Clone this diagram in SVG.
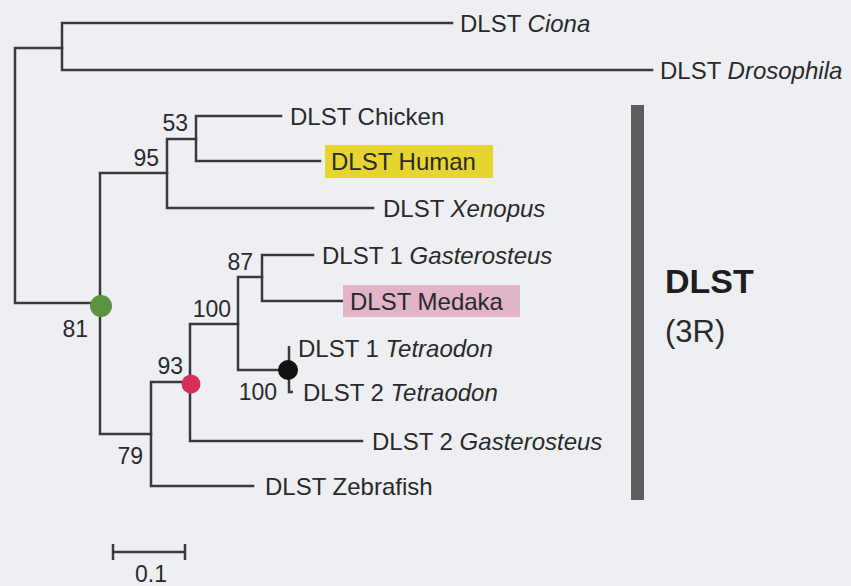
<svg xmlns="http://www.w3.org/2000/svg" width="851" height="586" viewBox="0 0 851 586">
<style>
.bg{fill:#edeff2}
.e{stroke:#3a3a3a;stroke-width:2.5;fill:none;stroke-linecap:square}
.t{font-family:"Liberation Sans",Arial,sans-serif;font-size:24px;fill:#2a2a2a}
.b{font-family:"Liberation Sans",Arial,sans-serif;font-size:23px;fill:#2a2a2a;text-anchor:end}
.i{font-style:italic}
</style>
<rect class="bg" x="0" y="0" width="851" height="586"/>
<g id="connectors">
<path class="e" d="M15 48 V303 M15 48 H62 M15 303 H100"/>
<path class="e" d="M62 23 V70 M62 23 H452 M62 70 H652"/>
<path class="e" d="M100 173 V434 M100 173 H167 M100 434 H151"/>
<path class="e" d="M167 139 V208 M167 139 H196 M167 208 H373"/>
<path class="e" d="M196 116 V161 M196 116 H281 M196 161 H320"/>
<path class="e" d="M151 382 V486 M151 382 H190 M151 486 H253"/>
<path class="e" d="M190 324 V441 M190 324 H238 M190 441 H362"/>
<path class="e" d="M238 277 V370 M238 277 H262 M238 370 H288"/>
<path class="e" d="M262 255 V301 M262 255 H313 M262 301 H343"/>
<path class="e" d="M289 346 V392 H293" style="stroke-linecap:butt"/>
</g>
<g id="n-root"/>
<g id="n-81"><circle cx="101" cy="306" r="11" fill="#5b9440"/><text class="b" x="88" y="337">81</text></g>
<g id="n-95"><text class="b" x="159" y="166">95</text></g>
<g id="n-53"><text class="b" x="188" y="131">53</text></g>
<g id="n-79"><text class="b" x="143" y="464">79</text></g>
<g id="n-93"><circle cx="191" cy="384" r="9.5" fill="#d6305a"/><text class="b" x="183" y="374">93</text></g>
<g id="n-100a"><text class="b" x="231" y="317">100</text></g>
<g id="n-87"><text class="b" x="253" y="270">87</text></g>
<g id="n-100b"><circle cx="288" cy="370" r="10" fill="#111"/><text class="b" x="277" y="400">100</text></g>
<g id="leaf-ciona"><text class="t" x="460" y="32">DLST <tspan class="i">Ciona</tspan></text></g>
<g id="leaf-drosophila"><text class="t" x="660" y="79">DLST <tspan class="i">Drosophila</tspan></text></g>
<g id="leaf-chicken"><text class="t" x="290" y="125">DLST Chicken</text></g>
<g id="leaf-human"><rect x="325" y="145" width="168" height="33" fill="#e6d52e"/><text class="t" x="331" y="170">DLST Human</text></g>
<g id="leaf-xenopus"><text class="t" x="383" y="217">DLST <tspan class="i">Xenopus</tspan></text></g>
<g id="leaf-gast1"><text class="t" x="322" y="264">DLST 1 <tspan class="i">Gasterosteus</tspan></text></g>
<g id="leaf-medaka"><rect x="343" y="285" width="177" height="32" fill="#e2b4c8"/><text class="t" x="350" y="310">DLST Medaka</text></g>
<g id="leaf-tetra1"><text class="t" x="298" y="357">DLST 1 <tspan class="i">Tetraodon</tspan></text></g>
<g id="leaf-tetra2"><text class="t" x="303" y="401">DLST 2 <tspan class="i">Tetraodon</tspan></text></g>
<g id="leaf-gast2"><text class="t" x="372" y="450">DLST 2 <tspan class="i">Gasterosteus</tspan></text></g>
<g id="leaf-zebrafish"><text class="t" x="265" y="495">DLST Zebrafish</text></g>
<g id="clade-bar"><rect x="631" y="105" width="13" height="395" fill="#5e5e5e"/><text x="665" y="293" style="font-family:'Liberation Sans',Arial,sans-serif;font-size:34px;font-weight:bold;fill:#1e1e1e">DLST</text><text class="t" x="665" y="342" style="font-size:31px">(3R)</text></g>
<g id="scale-bar"><path class="e" d="M113 552 H185 M113 544 V560 M185 544 V560" style="stroke-linecap:butt"/><text class="t" x="151" y="582" style="font-size:23px;text-anchor:middle">0.1</text></g>
</svg>
